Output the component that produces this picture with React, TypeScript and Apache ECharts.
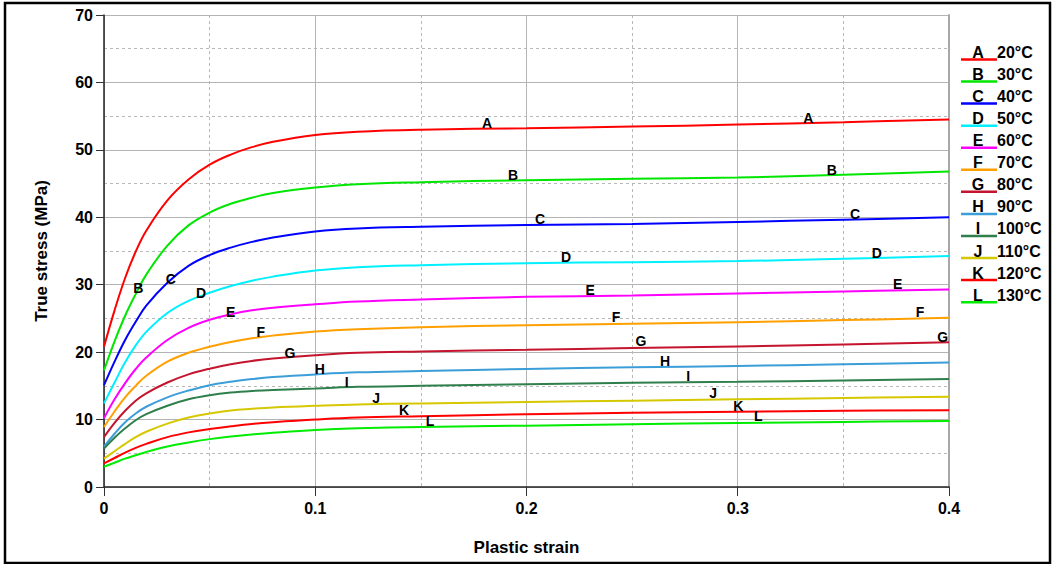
import React, { useEffect, useRef } from "react";
import * as echarts from "echarts";

const FONT = "'Liberation Sans', Arial, sans-serif";

const strain = [0, 0.005, 0.01, 0.015, 0.02, 0.03, 0.04, 0.05, 0.06, 0.07, 0.08, 0.1, 0.12, 0.15, 0.2, 0.25, 0.3, 0.35, 0.4];

const letters = ["A", "B", "C", "D", "E", "F", "G", "H", "I", "J", "K", "L"];
const temps = ["20°C", "30°C", "40°C", "50°C", "60°C", "70°C", "80°C", "90°C", "100°C", "110°C", "120°C", "130°C"];
const colors = ["#ff0000", "#00e600", "#0000ff", "#00f0ff", "#ff00ff", "#ffa000", "#c4142e", "#3c9ed8", "#2f7f4c", "#d6c800", "#ff0000", "#00ec00"];

const stressA = [20.8, 26.2, 31.0, 34.9, 38.0, 42.5, 45.6, 47.8, 49.3, 50.4, 51.2, 52.2, 52.7, 53.0, 53.2, 53.45, 53.75, 54.1, 54.5];
const stressB = [17.3, 21.6, 25.4, 28.6, 31.5, 35.8, 38.8, 40.7, 42.0, 42.9, 43.6, 44.4, 44.9, 45.2, 45.5, 45.7, 45.9, 46.3, 46.8];
const stressC = [15.1, 18.6, 21.8, 24.5, 26.9, 30.3, 32.8, 34.4, 35.5, 36.35, 37.0, 37.9, 38.35, 38.6, 38.85, 39.0, 39.3, 39.65, 40.0];
const stressD = [12.4, 15.5, 18.5, 21.0, 23.0, 25.8, 27.6, 28.8, 29.8, 30.6, 31.2, 32.1, 32.6, 32.9, 33.2, 33.35, 33.5, 33.85, 34.25];
const stressE = [10.2, 13.0, 15.4, 17.5, 19.2, 21.8, 23.6, 24.8, 25.6, 26.2, 26.6, 27.1, 27.5, 27.8, 28.2, 28.4, 28.7, 29.0, 29.3];
const stressF = [8.9, 11.2, 13.3, 15.0, 16.5, 18.6, 19.9, 20.8, 21.5, 22.05, 22.45, 23.05, 23.4, 23.7, 24.0, 24.2, 24.45, 24.75, 25.1];
const stressG = [7.4, 9.5, 11.3, 12.8, 13.9, 15.5, 16.7, 17.55, 18.2, 18.7, 19.05, 19.55, 19.9, 20.1, 20.35, 20.6, 20.85, 21.15, 21.45];
const stressH = [6.0, 7.9, 9.6, 10.9, 11.9, 13.3, 14.3, 15.1, 15.6, 16.0, 16.3, 16.7, 17.0, 17.2, 17.5, 17.75, 17.95, 18.2, 18.45];
const stressI = [5.7, 7.3, 8.7, 9.9, 10.8, 12.05, 13.0, 13.6, 14.0, 14.25, 14.4, 14.6, 14.85, 15.0, 15.25, 15.45, 15.6, 15.8, 16.0];
const stressJ = [4.2, 5.3, 6.4, 7.4, 8.2, 9.4, 10.3, 10.9, 11.35, 11.6, 11.8, 12.05, 12.25, 12.4, 12.6, 12.8, 13.0, 13.2, 13.4];
const stressK = [3.5, 4.3, 5.1, 5.8, 6.4, 7.4, 8.1, 8.6, 9.0, 9.35, 9.6, 10.0, 10.3, 10.5, 10.8, 11.0, 11.15, 11.3, 11.4];
const stressL = [3.0, 3.6, 4.2, 4.7, 5.2, 6.0, 6.6, 7.1, 7.5, 7.8, 8.05, 8.45, 8.7, 8.9, 9.1, 9.3, 9.5, 9.65, 9.8];

const stresses = [stressA, stressB, stressC, stressD, stressE, stressF, stressG, stressH, stressI, stressJ, stressK, stressL];

// curve letter annotations: [strain, stress] of letter centre
const labelsA = [[0.1813, 53.98], [0.3334, 54.68]];
const labelsB = [[0.0162, 29.47], [0.1936, 46.27], [0.3445, 47.01]];
const labelsC = [[0.0316, 30.8], [0.2064, 39.74], [0.3555, 40.44]];
const labelsD = [[0.0459, 28.73], [0.2187, 34.11], [0.3658, 34.66]];
const labelsE = [[0.06, 25.91], [0.2301, 29.22], [0.3757, 30.06]];
const labelsF = [[0.0742, 22.94], [0.2424, 25.21], [0.3863, 26.0]];
const labelsG = [[0.088, 19.92], [0.2542, 21.65], [0.397, 22.29]];
const labelsH = [[0.1022, 17.46], [0.2656, 18.69]];
const labelsI = [[0.1149, 15.62], [0.2765, 16.46]];
const labelsJ = [[0.1288, 13.15], [0.2884, 13.9]];
const labelsK = [[0.142, 11.42], [0.3003, 12.01]];
const labelsL = [[0.1543, 9.79], [0.3097, 10.53]];
const curveLabels = [labelsA, labelsB, labelsC, labelsD, labelsE, labelsF, labelsG, labelsH, labelsI, labelsJ, labelsK, labelsL];

const xTicks = { min: 0, max: 0.4, interval: 0.1 };
const yTicks = { min: 0, max: 70, interval: 10 };

export default function App() {
  const ref = useRef<HTMLDivElement>(null);
  useEffect(() => {
    if (!ref.current) return;
    const chart = echarts.init(ref.current, null, { renderer: "svg" });

    const series = stresses.map((vals, i) => ({
      name: letters[i],
      type: "line",
      data: strain.map((s, j) => [s, vals[j]]),
      smooth: 0.4,
      showSymbol: false,
      symbol: "none",
      lineStyle: { color: colors[i], width: 2 },
      itemStyle: { color: colors[i] },
      z: 3,
      markPoint: {
        silent: true,
        symbol: "rect",
        symbolSize: 1,
        itemStyle: { color: "rgba(0,0,0,0)" },
        label: {
          show: true,
          position: "inside",
          formatter: letters[i],
          color: "#000",
          fontWeight: "bold",
          fontSize: 14,
          fontFamily: FONT,
        },
        data: curveLabels[i].map((c) => ({ coord: c })),
      },
    }));

    const legendEls: any[] = [];
    letters.forEach((l, i) => {
      const ly = 59.5 + i * 22.06;
      legendEls.push({
        type: "line",
        shape: { x1: 961, y1: ly, x2: 997, y2: ly },
        style: { stroke: colors[i], lineWidth: 2.5 },
      });
      legendEls.push({
        type: "text",
        x: 978,
        y: ly + 1,
        style: { text: l, fill: "#000", font: `bold 16px ${FONT}`, textAlign: "center", textVerticalAlign: "bottom" },
      });
      legendEls.push({
        type: "text",
        x: 997,
        y: ly + 1,
        style: { text: temps[i], fill: "#000", font: `bold 16px ${FONT}`, textAlign: "left", textVerticalAlign: "bottom" },
      });
    });

    const axisText = { color: "#000", fontWeight: "bold", fontSize: 16, fontFamily: FONT };

    chart.setOption({
      animation: false,
      backgroundColor: "#fff",
      grid: { left: 104, right: 104, top: 15, bottom: 77 },
      xAxis: {
        type: "value",
        min: xTicks.min,
        max: xTicks.max,
        interval: xTicks.interval,
        name: "Plastic strain",
        nameLocation: "middle",
        nameGap: 52,
        nameTextStyle: { ...axisText, fontSize: 17 },
        axisLine: { show: true, lineStyle: { color: "#222", width: 1.5 } },
        axisTick: { show: true, length: 9, lineStyle: { color: "#333" } },
        axisLabel: { ...axisText, margin: 13, formatter: (v: number) => (v === 0 ? "0" : String(+v.toFixed(1))) },
        splitLine: { show: true, lineStyle: { color: "#b4b4b4", width: 1 } },
        minorTick: { show: false, splitNumber: 2 },
        minorSplitLine: { show: true, lineStyle: { color: "#b8b8b8", type: [3, 3], width: 1 } },
      },
      yAxis: [
        {
          type: "value",
          min: yTicks.min,
          max: yTicks.max,
          interval: yTicks.interval,
          name: "True stress (MPa)",
          nameLocation: "middle",
          nameGap: 54,
          nameTextStyle: { ...axisText, fontSize: 17 },
          axisLine: { show: true, lineStyle: { color: "#222", width: 1.5 } },
          axisTick: { show: true, length: 8, lineStyle: { color: "#333" } },
          axisLabel: { ...axisText, margin: 11 },
          splitLine: { show: true, lineStyle: { color: "#b4b4b4", width: 1 } },
          minorTick: { show: false, splitNumber: 2 },
          minorSplitLine: { show: true, lineStyle: { color: "#b8b8b8", type: [3, 3], width: 1 } },
        },
        {
          type: "value",
          position: "right",
          min: yTicks.min,
          max: yTicks.max,
          interval: yTicks.interval,
          axisLine: { show: true, lineStyle: { color: "#a8a8a8", width: 2 } },
          axisTick: { show: false },
          axisLabel: { show: false },
          splitLine: { show: false },
        },
      ],
      series,
      graphic: [
        {
          type: "rect",
          shape: { x: 5, y: 3, width: 1045, height: 560 },
          style: { fill: "none", stroke: "#000", lineWidth: 2.5 },
          silent: true,
        },
        ...legendEls,
      ],
    });
    return () => chart.dispose();
  }, []);
  return <div ref={ref} style={{ position: "fixed", left: 0, top: 0, width: 1053, height: 564 }} />;
}
